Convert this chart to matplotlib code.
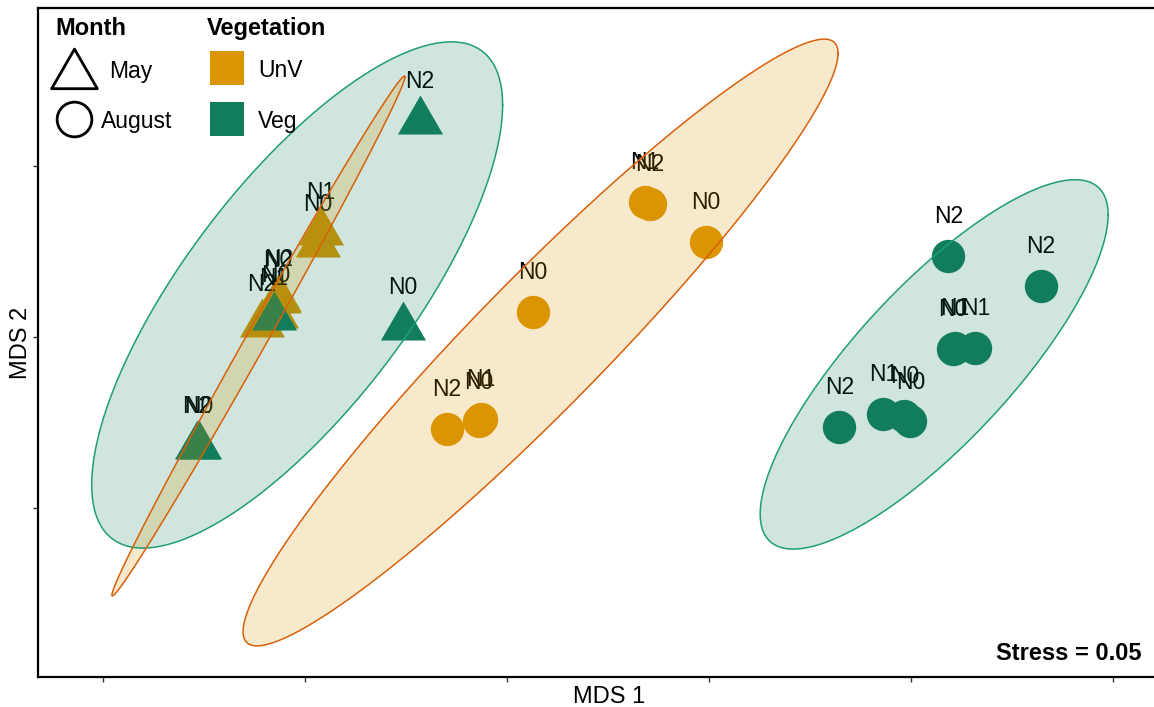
import numpy as np
import pandas as pd
import matplotlib
matplotlib.use("Agg")
import matplotlib.pyplot as plt
from matplotlib.path import Path

plt.rcParams["font.family"] = ["Liberation Sans", "DejaVu Sans"]

# NMDS site scores (rows: UnV May, Veg May, UnV Aug, Veg Aug)
mds1 = [-0.461, -0.468, -0.567, -0.565, -0.572, -0.607,
        -0.216, -0.258, -0.768, -0.763, -0.577,
        0.064, 0.493, 0.342, 0.354, -0.149, -0.069, -0.064,
        1.093, 1.323, 1.105, 1.110, 1.160, 0.823, 0.932, 0.984, 0.999]
mds2 = [0.307, 0.272, 0.108, 0.111, 0.064, 0.038,
        0.632, 0.029, -0.319, -0.319, 0.058,
        0.073, 0.278, 0.395, 0.389, -0.269, -0.246, -0.240,
        0.237, 0.149, -0.035, -0.032, -0.032, -0.263, -0.225, -0.231, -0.246]
nitrogen = ["N1", "N0", "N0", "N2", "N0", "N2",
            "N2", "N0", "N2", "N0", "N1",
            "N0", "N0", "N1", "N2", "N2", "N0", "N1",
            "N2", "N2", "N0", "N1", "N1", "N2", "N1", "N0", "N0"]
month = ["May"] * 11 + ["August"] * 16
vegetation = (["UnV"] * 6 + ["Veg"] * 5 + ["UnV"] * 7 + ["Veg"] * 9)

# 95% ellipses per Month x Vegetation group: centre, half extents, correlation
ell_month = ["May", "May", "August", "August"]
ell_veg = ["Veg", "UnV", "UnV", "Veg"]
ell_cx = [-0.520, -0.616, 0.083, 1.058]
ell_cy = [0.123, 0.003, -0.016, -0.080]
ell_hx = [0.509, 0.363, 0.737, 0.431]
ell_hy = [0.740, 0.760, 0.887, 0.540]
ell_r = [0.75, 0.9966, 0.953, 0.81]

stress = 0.05

veg_colors = {"UnV": "#DA9500", "Veg": "#117D5C"}
edge_colors = {"UnV": "#D9600A", "Veg": "#1E9E77"}

# triangle centred on its centroid
tri = Path([(0, 1), (-0.866, -0.5), (0.866, -0.5), (0, 1)],
           [Path.MOVETO, Path.LINETO, Path.LINETO, Path.CLOSEPOLY])
shapes = {"May": (tri, 37.5), "August": ("o", 24)}

df = pd.DataFrame({"mds1": mds1, "mds2": mds2, "nitrogen": nitrogen,
                   "month": month, "vegetation": vegetation})

fig = plt.figure(figsize=(11.54, 7.07), dpi=100)
ax = fig.add_axes([38 / 1154, 30 / 707, 1142 / 1154, 669 / 707])

for _, row in df.iterrows():
    marker, ms = shapes[row["month"]]
    ax.plot(row["mds1"], row["mds2"], marker=marker, ms=ms, ls="",
            color=veg_colors[row["vegetation"]], mew=0, zorder=2)

for _, row in df.iterrows():
    ax.annotate(row["nitrogen"], (row["mds1"], row["mds2"]),
                xytext=(0, 23.5), textcoords="offset points",
                ha="center", va="baseline", fontsize=16.5, color="black",
                zorder=3)

t = np.linspace(0, 2 * np.pi, 300)
for m, v, cx, cy, hx, hy, r in zip(ell_month, ell_veg, ell_cx, ell_cy,
                                   ell_hx, ell_hy, ell_r):
    ex = cx + hx * np.cos(t)
    ey = cy + hy * (r * np.cos(t) + np.sqrt(1 - r ** 2) * np.sin(t))
    ax.fill(ex, ey, color=veg_colors[v], alpha=0.2, lw=0, zorder=4)
    ax.plot(ex, ey, color=edge_colors[v], lw=1.1, zorder=5)

ax.set_xlim(-1.162, 1.667)
ax.set_ylim(-0.994, 0.962)
ax.set_xticks([-1, -0.5, 0, 0.5, 1, 1.5])
ax.set_yticks([-0.5, 0, 0.5])
ax.tick_params(length=3.5, width=1, color="#333333",
               labelbottom=False, labelleft=False)
for sp in ax.spines.values():
    sp.set_linewidth(1.6)
    sp.set_color("black")
ax.set_xlabel("MDS 1", fontsize=17, labelpad=3)
ax.set_ylabel("MDS 2", fontsize=17, labelpad=1)

# legend: Month shapes and Vegetation colours
tr = ax.transAxes
ax.text(0.0149, 0.9596, "Month", transform=tr, fontsize=17,
        fontweight="bold", va="baseline", zorder=6)
ax.text(0.148, 0.9596, "Vegetation", transform=tr, fontsize=17,
        fontweight="bold", va="baseline", zorder=6)
ax.plot(0.0315, 0.9003, marker=tri, ms=38, mfc="none", mec="black",
        mew=2, transform=tr, zorder=6)
ax.plot(0.0315, 0.834, marker="o", ms=25, mfc="none", mec="black",
        mew=2, transform=tr, zorder=6)
ax.text(0.0624, 0.895, "May", transform=tr, fontsize=16.5,
        va="baseline", zorder=6)
ax.text(0.0549, 0.820, "August", transform=tr, fontsize=16.5,
        va="baseline", zorder=6)
for key, fy, fty in [("UnV", 0.9103, 0.8973), ("Veg", 0.834, 0.820)]:
    ax.plot(0.1655, fy, marker="s", ms=24.5, color=veg_colors[key],
            mew=0, transform=tr, zorder=6)
    ax.text(0.193, fty, key, transform=tr, fontsize=16.5,
            va="baseline", zorder=6)

ax.text(0.9667, 0.0254, f"Stress = {stress:.2f}", transform=tr,
        fontsize=17, fontweight="bold", ha="right", va="baseline", zorder=6)

fig.savefig("out.png", dpi=100)
